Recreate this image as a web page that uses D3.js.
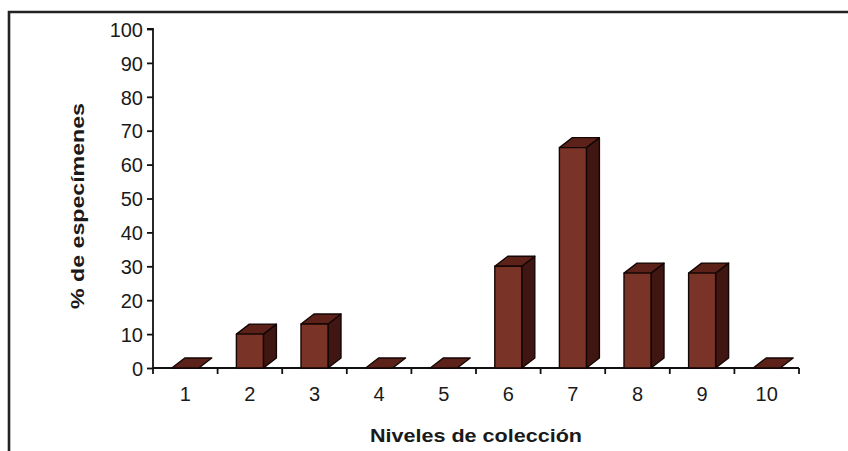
<!DOCTYPE html>
<html>
<head>
<meta charset="utf-8">
<script src="https://cdn.jsdelivr.net/npm/d3@7/dist/d3.min.js"></script>
<style>
  html, body { margin: 0; padding: 0; background: #fff; }
  svg { display: block; font-family: "Liberation Sans", Arial, sans-serif; }
</style>
</head>
<body>
<svg id="chart" width="848" height="451"></svg>
<script>
// Collection levels and the share of specimens found at each one
const niveles = ["1", "2", "3", "4", "5", "6", "7", "8", "9", "10"];
const porcentajes = [0, 10, 13, 0, 0, 30, 65, 28, 28, 0];
const yTicks = [0, 10, 20, 30, 40, 50, 60, 70, 80, 90, 100];

(function () {
  const svg = d3.select("#chart");
  const W = 848, H = 451;

  // plot frame
  const plotL = 153, plotR = 799, plotT = 29, plotB = 368;

  const x = d3.scaleBand().domain(niveles).range([plotL, plotR]).paddingInner(0).paddingOuter(0);
  const y = d3.scaleLinear().domain([0, 100]).range([plotB, plotT]);

  // outer border (top and left edges of the chart box)
  svg.append("path")
    .attr("d", `M9,${H} L9,12 L${W},12`)
    .attr("fill", "none")
    .attr("stroke", "#222")
    .attr("stroke-width", 2.6);

  // y axis
  const yAxis = d3.axisLeft(y).tickValues(yTicks).tickSize(6).tickPadding(4).tickFormat(d3.format("d"));
  const gy = svg.append("g").attr("transform", `translate(${plotL},0)`).call(yAxis);
  gy.select(".domain").attr("stroke", "#111").attr("stroke-width", 1.8).attr("d", `M-6,${plotT}H0V${plotB}`);
  gy.selectAll(".tick line").attr("stroke", "#111").attr("stroke-width", 1.8);
  gy.selectAll(".tick text").attr("font-size", 20).attr("fill", "#1a1a1a").attr("dy", "0.36em");

  // x axis with ticks between categories
  const gx = svg.append("g").attr("transform", `translate(0,${plotB})`);
  gx.append("line").attr("x1", plotL).attr("x2", plotR).attr("y1", 0).attr("y2", 0)
    .attr("stroke", "#111").attr("stroke-width", 1.8);
  const bounds = niveles.map(n => x(n)).concat([plotR]);
  gx.selectAll("line.tk").data(bounds).join("line").attr("class", "tk")
    .attr("x1", d => d).attr("x2", d => d).attr("y1", 0).attr("y2", 6)
    .attr("stroke", "#111").attr("stroke-width", 1.8);
  gx.selectAll("text").data(niveles).join("text")
    .attr("x", d => x(d) + x.bandwidth() / 2)
    .attr("y", 33)
    .attr("text-anchor", "middle")
    .attr("font-size", 20)
    .attr("fill", "#1a1a1a")
    .text(d => d);

  // 3D bars
  const faceW = 27, dx = 13, dy = 10;
  const bars = svg.append("g");
  niveles.forEach((n, i) => {
    const cx = x(n) + x.bandwidth() / 2;
    const x0 = cx - faceW / 2, x1 = cx + faceW / 2;
    const yt = y(porcentajes[i]);
    const g = bars.append("g").attr("stroke", "#140604").attr("stroke-width", 1.4).attr("stroke-linejoin", "round");
    // side face
    if (porcentajes[i] > 0) {
      g.append("path")
        .attr("d", `M${x1},${plotB} L${x1 + dx},${plotB - dy} L${x1 + dx},${yt - dy} L${x1},${yt} Z`)
        .attr("fill", "#3f1611");
    }
    // top face
    g.append("path")
      .attr("d", `M${x0},${yt} L${x0 + dx},${yt - dy} L${x1 + dx},${yt - dy} L${x1},${yt} Z`)
      .attr("fill", "#5c2219");
    // front face
    if (porcentajes[i] > 0) {
      g.append("rect")
        .attr("x", x0).attr("y", yt)
        .attr("width", faceW).attr("height", plotB - yt)
        .attr("fill", "#7a3327");
    }
  });

  // axis titles
  svg.append("text")
    .attr("transform", `translate(84,206) rotate(-90)`)
    .attr("text-anchor", "middle")
    .attr("font-size", 19)
    .attr("font-weight", "bold")
    .attr("fill", "#1a1a1a")
    .attr("textLength", 206)
    .attr("lengthAdjust", "spacingAndGlyphs")
    .text("% de especímenes");

  svg.append("text")
    .attr("x", (plotL + plotR) / 2)
    .attr("y", 442)
    .attr("text-anchor", "middle")
    .attr("font-size", 19)
    .attr("font-weight", "bold")
    .attr("fill", "#1a1a1a")
    .attr("textLength", 212)
    .attr("lengthAdjust", "spacingAndGlyphs")
    .text("Niveles de colección");
})();
</script>
</body>
</html>
